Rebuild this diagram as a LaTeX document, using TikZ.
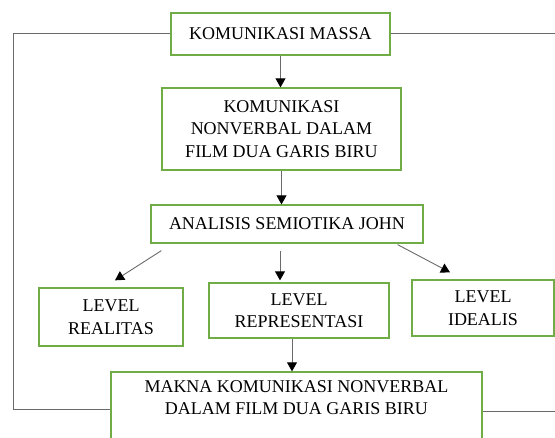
\documentclass[tikz,border=0pt]{standalone}
\usepackage{fontspec}
\setmainfont{Liberation Serif}
\usetikzlibrary{positioning, arrows.meta, calc}
\definecolor{BoxGreen}{HTML}{70AD47}
\definecolor{LineGray}{HTML}{6A6A6A}

\begin{document}
\begin{tikzpicture}[x=1pt, y=-1pt,
  every node/.style={font=\fontsize{18}{22.5}\selectfont},
  arr/.style={-{Triangle[length=9pt, width=10pt, black]}, LineGray, line width=0.9pt},
  back/.style={LineGray, line width=1pt},
  box/.style={draw=BoxGreen, line width=1.3pt, align=center, inner sep=0pt,
    minimum width=#1},
  box/.default={150pt}
]
  \useasboundingbox (0,0) rectangle (555,438);

  % Top: mass communication
  \node[box=219pt, minimum height=42pt] (massa) at (280.5,34) {KOMUNIKASI MASSA};
  \node[box=239pt, minimum height=82pt] (film) at (281.5,129)
    {KOMUNIKASI\\NONVERBAL DALAM\\FILM DUA GARIS BIRU};

  % Analysis
  \node[box=272pt, minimum height=38pt] (analisis) at (287,224) {ANALISIS SEMIOTIKA JOHN};

  % The three levels
  \node[box=144pt, minimum height=58pt] (realitas) at (111,317) {LEVEL\\REALITAS};
  \node[box=180pt, minimum height=55pt] (representasi) at (299,310.5) {LEVEL\\REPRESENTASI};
  \node[box=142pt, minimum height=56pt] (idealis) at (483,308) {LEVEL\\IDEALIS};

  % Meaning (cut at the bottom)
  \node[box=371pt, minimum height=80pt] (makna) at (296.5,412)
    {MAKNA KOMUNIKASI NONVERBAL\\DALAM FILM DUA GARIS BIRU\\\strut};

  % Arrows down the chain
  \draw[arr] (massa.south) -- (massa.south |- film.north);
  \draw[arr] (film.south) -- (film.south |- analisis.north);
  \draw[arr] ([xshift=11pt, yshift=-7pt]analisis.south west)
    -- ([xshift=4pt, yshift=7pt]realitas.north);
  \draw[arr, shorten >=2pt] ([xshift=-7pt, yshift=-7pt]analisis.south)
    -- ([xshift=-7pt]analisis.south |- representasi.north);
  \draw[arr] ([xshift=-26pt, yshift=-1pt]analisis.south east)
    -- ([xshift=-33pt, yshift=7pt]idealis.north);
  \draw[arr] ([xshift=-7pt]representasi.south)
    -- ([xshift=-7pt]representasi.south |- makna.north);

  % Frame lines round the chart
  \coordinate (kiri) at (13,0);
  \coordinate (kanan) at (555,0);
  \draw[back] (massa.west) -| ([yshift=2pt]kiri |- makna.west) -- ([yshift=2pt]makna.west);
  \draw[back] (massa.east) -- (massa.east -| kanan);
  \draw[back] (makna.east) -- (makna.east -| kanan);
\end{tikzpicture}
\end{document}
